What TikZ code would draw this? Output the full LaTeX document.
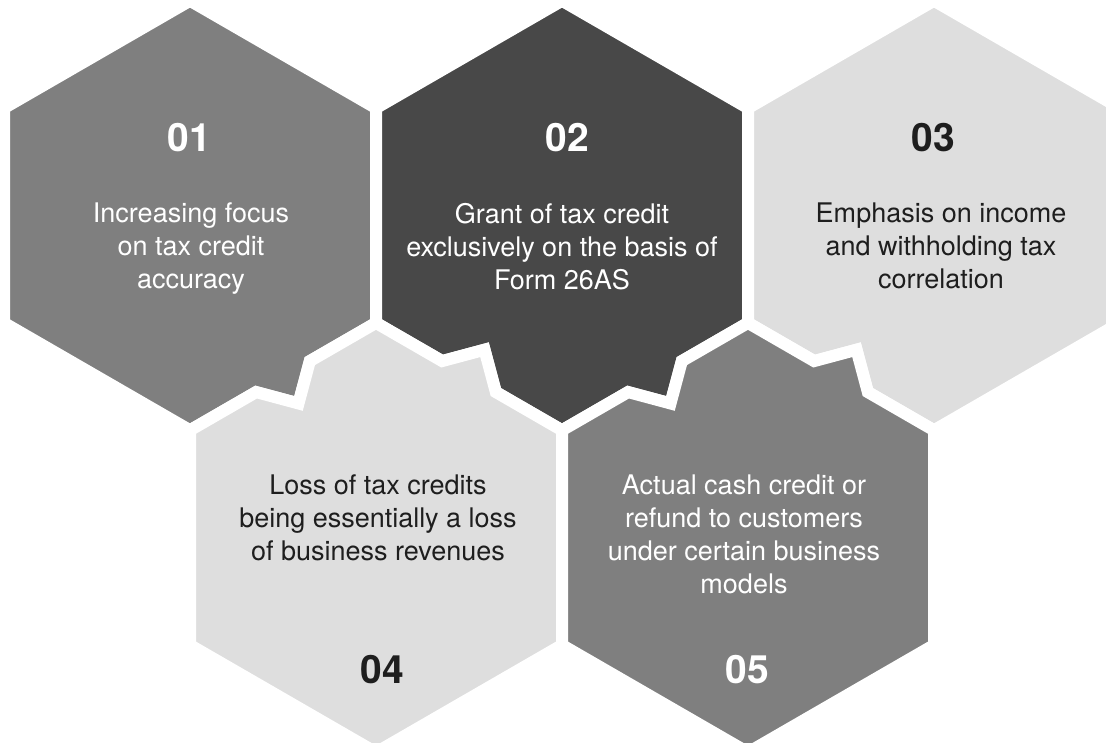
\documentclass[tikz,border=0pt]{standalone}
\usepackage{fontspec}
\setmainfont{TeX Gyre Heros}
\usepackage{xcolor}
\usepackage{tikz}

\definecolor{midgray}{RGB}{127,127,127}
\definecolor{darkgray}{RGB}{72,72,72}
\definecolor{lightgray}{RGB}{222,222,222}
\definecolor{inkgray}{RGB}{30,30,30}

% teeth on the shared sides of the cells (relative to the cell centre)
\newcommand{\toothbr}{-- (119.85,145.59) -- (108.5,187.94) -- (66.15,176.59)}
\newcommand{\toothbl}{-- (-66.15,176.58) -- (-77.5,134.23) -- (-119.85,145.58)}
\newcommand{\toothtl}{-- (-119.85,-145.59) -- (-77.5,-134.23) -- (-66.15,-176.59)}
\newcommand{\toothtr}{-- (66.15,-176.59) -- (108.5,-187.94) -- (119.85,-145.59)}

\tikzset{
	cell/.style={draw=white,line width=12pt,line join=miter},
	num/.style={font=\fontsize{39}{39}\selectfont\bfseries,inner sep=0pt},
	body/.style={font=\fontsize{27}{33}\selectfont,align=center,inner sep=0pt,anchor=north}
}

\begin{document}
\begin{tikzpicture}[x=1pt,y=-1pt]
		\useasboundingbox (0,0) rectangle (1106,742);
		\clip (0,0) rectangle (1106,742);
		%
		\begin{scope}[shift={(190,215.5)}]
		\path[cell,fill=midgray] (0,-214.78) -- (186,-107.39) -- (186,107.39) \toothbr
			-- (0,214.78) -- (-186,107.39) -- (-186,-107.39) -- cycle;
		\end{scope}
		\begin{scope}[shift={(562,215.5)}]
		\path[cell,fill=darkgray] (0,-214.78) -- (186,-107.39) -- (186,107.39) \toothbr
			-- (0,214.78) \toothbl -- (-186,107.39) -- (-186,-107.39) -- cycle;
		\end{scope}
		\begin{scope}[shift={(934,215.5)}]
		\path[cell,fill=lightgray] (0,-214.78) -- (186,-107.39) -- (186,107.39)
			-- (0,214.78) \toothbl -- (-186,107.39) -- (-186,-107.39) -- cycle;
		\end{scope}
		\begin{scope}[shift={(376,537.67)}]
		\path[cell,fill=lightgray] (-186,-107.39) \toothtl -- (0,-214.78) \toothtr
			-- (186,-107.39) -- (186,107.39) -- (0,214.78) -- (-186,107.39) -- cycle;
		\end{scope}
		\begin{scope}[shift={(748,537.67)}]
		\path[cell,fill=midgray] (-186,-107.39) \toothtl -- (0,-214.78) \toothtr
			-- (186,-107.39) -- (186,107.39) -- (0,214.78) -- (-186,107.39) -- cycle;
		\end{scope}
		%
		\node[num,text=white] (n1) at (189,137.5) {01};
		\node[num,text=white] (n2) at (567,137.5) {02};
		\node[num,text=inkgray] (n3) at (933,137.5) {03};
		\node[num,text=inkgray] (n4) at (382,670) {04};
		\node[num,text=white] (n5) at (747,670) {05};
		%
		\node[body,text=white] (t1) at (191,203) {Increasing focus\\on tax credit\\accuracy};
		\node[body,text=white] (t2) at (562,203) {Grant of tax credit\\exclusively on the basis of\\Form 26AS};
		\node[body,text=inkgray] (t3) at (941,203) {Emphasis on income\\and withholding tax\\correlation};
		\node[body,text=inkgray] (t4) at (378,475) {Loss of tax credits\\being essentially a loss\\of business revenues};
		\node[body,text=white] (t5) at (744,475) {Actual cash credit or\\refund to customers\\under certain business\\models};
\end{tikzpicture}
\end{document}
